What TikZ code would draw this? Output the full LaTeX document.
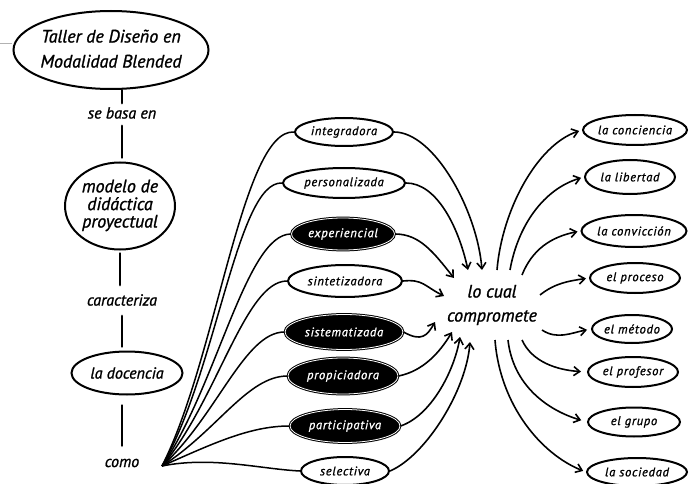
\documentclass[tikz,border=0pt]{standalone}
\usepackage{fontspec}
\setmainfont{PT Sans}[FakeBold=1.2]
\newfontfamily\spaced[LetterSpace=6,FakeBold=1.2]{PT Sans}
\usetikzlibrary{shapes.geometric,arrows.meta,calc}
\newcommand\ctxt[1]{\makebox[0pt][c]{#1}}
\begin{document}
\begin{tikzpicture}[x=1pt,y=-1pt,
  ell/.style={ellipse, draw=black, line width=2pt, inner sep=0pt, fill=white},
  dark/.style={ellipse, draw=black, fill=black, text=white, line width=1pt, double=white, double distance=0.8pt, inner sep=0pt},
  lab/.style={font=\spaced\itshape\fontsize{12.5}{14}\selectfont},
  big/.style={inner sep=0pt, font=\itshape\fontsize{16}{18}\selectfont},
  fanline/.style={line width=1.5pt},
  arr/.style={line width=1.6pt, -{Straight Barb[length=6pt,width=9pt]}},
  tick/.style={line width=2.8pt, line cap=round}]
\useasboundingbox (0,0) rectangle (699,484);
\fill[white] (0,0) rectangle (699,484);
\draw[gray!60, line width=0.6pt] (0,43) -- (12,43);

% left column
\node[ell, minimum width=195pt, minimum height=78pt, font=\itshape\fontsize{18}{25}\selectfont] (taller) at (111,50)
  {\ctxt{\begin{tabular}{@{}c@{}}Taller de Diseño en\\Modalidad Blended\end{tabular}}};
\node[big] (sbe) at (122,113) {se basa en};
\node[ell, minimum width=110pt, minimum height=87pt, font=\itshape\fontsize{18}{16}\selectfont] (modelo) at (120,206)
  {\ctxt{\begin{tabular}{@{}c@{}}modelo de\\didáctica\\proyectual\end{tabular}}};
\node[big] (car) at (122,300) {caracteriza};
\node[ell, minimum width=111pt, minimum height=43pt, font=\itshape\fontsize{16}{18}\selectfont] (doc) at (127,373) {\ctxt{la docencia}};
\node[big] (como) at (122,463) {como};

\draw[tick, shorten >=4pt] (sbe.north |- taller.south) -- (sbe.north);
\draw[tick, shorten <=7pt, shorten >=4pt] (sbe.south) -- (modelo.north -| sbe.south);
\draw[tick, shorten <=3pt, shorten >=9pt] (modelo.south) -- (modelo.south |- car.north);
\draw[tick, shorten <=10pt, shorten >=4pt] (car.south) -- (doc.north -| car.south);
\draw[tick, shorten <=10pt, shorten >=13pt] (doc.south -| como.north) -- (como.north);

% middle column
\node[ell, lab, minimum width=98pt, minimum height=28pt] (int) at (344,132) {\ctxt{integradora}};
\node[ell, lab, minimum width=122pt, minimum height=30pt] (per) at (344,183) {\ctxt{personalizada}};
\node[dark, lab, minimum width=103pt, minimum height=32pt] (exp) at (343,234) {\ctxt{experiencial}};
\node[ell, lab, minimum width=114pt, minimum height=32pt] (sin) at (345,281) {\ctxt{sintetizadora}};
\node[dark, lab, minimum width=118pt, minimum height=35pt] (sis) at (344,332) {\ctxt{sistematizada}};
\node[dark, lab, minimum width=110pt, minimum height=36pt] (prop) at (343,376) {\ctxt{propiciadora}};
\node[dark, lab, minimum width=110pt, minimum height=33pt] (par) at (345,426) {\ctxt{participativa}};
\node[ell, lab, minimum width=88pt, minimum height=28pt] (sel) at (345,471) {\ctxt{selectiva}};

% centre
\node[inner sep=0pt, align=center, font=\itshape\fontsize{18}{24}\selectfont] (lc) at (492,305) {lo cual\\compromete};

% right column
\node[ell, lab, minimum width=104pt, minimum height=30pt] (con) at (635,130) {\ctxt{la conciencia}};
\node[ell, lab, minimum width=90pt, minimum height=34pt] (lib) at (630,177) {\ctxt{la libertad}};
\node[ell, lab, minimum width=105pt, minimum height=32pt] (conv) at (634,231) {\ctxt{la convicción}};
\node[ell, lab, minimum width=90pt, minimum height=30pt] (proc) at (635,278) {\ctxt{el proceso}};
\node[ell, lab, minimum width=80pt, minimum height=28pt] (met) at (632,329) {\ctxt{el método}};
\node[ell, lab, minimum width=90pt, minimum height=30pt] (prof) at (633,372) {\ctxt{el profesor}};
\node[ell, lab, minimum width=92pt, minimum height=29pt] (gru) at (634,422) {\ctxt{el grupo}};
\node[ell, lab, minimum width=100pt, minimum height=28pt] (soc) at (637,472) {\ctxt{la sociedad}};

% fan from "como"
\coordinate (fan) at (162,466);
\draw[fanline] (fan) .. controls +(55,-108) and +(-52,-3) .. (int.west);
\draw[fanline] (fan) .. controls +(55,-95) and +(-45,-2) .. (per.west);
\draw[fanline] (fan) .. controls +(55,-80) and +(-45,0) .. (exp.west);
\draw[fanline] (fan) .. controls +(55,-65) and +(-42,0) .. (sin.west);
\draw[fanline] (fan) .. controls +(55,-50) and +(-40,0) .. (sis.west);
\draw[fanline] (fan) .. controls +(55,-35) and +(-40,0) .. (prop.west);
\draw[fanline] (fan) .. controls +(50,-22) and +(-40,0) .. (par.west);
\draw[fanline] (fan) .. controls +(50,-10) and +(-40,-2) .. (sel.west);

% arrow ends around the centre
\coordinate (i1) at ($(lc.center)+(-10,-35)$);
\coordinate (i2) at ($(lc.center)+(-24,-35)$);
\coordinate (i3) at ($(lc.center)+(-38,-27)$);
\coordinate (i4) at ($(lc.center)+(-48,-9)$);
\coordinate (i5) at ($(lc.center)+(-57,17)$);
\coordinate (i6) at ($(lc.center)+(-40,27)$);
\coordinate (i7) at ($(lc.center)+(-32,32)$);
\coordinate (i8) at ($(lc.center)+(-22,37)$);
\coordinate (o1) at ($(lc.center)+(5,-35)$);
\coordinate (o2) at ($(lc.center)+(18,-35)$);
\coordinate (o3) at ($(lc.center)+(30,-30)$);
\coordinate (o4) at ($(lc.center)+(48,-10)$);
\coordinate (o5) at ($(lc.center)+(50,25)$);
\coordinate (o6) at ($(lc.center)+(30,35)$);
\coordinate (o7) at ($(lc.center)+(16,35)$);
\coordinate (o8) at ($(lc.center)+(3,35)$);

\draw[arr] (int.east) .. controls +(40,0) and +(-5,-60) .. (i1);
\draw[arr] (per.east) .. controls +(30,0) and +(-10,-45) .. (i2);
\draw[arr] (exp.east) .. controls +(25,0) and +(-20,-25) .. (i3);
\draw[arr] (sin.east) .. controls +(20,-2) and +(-20,-10) .. (i4);
\draw[arr] (sis.east) .. controls +(18,10) and +(-8,14) .. (i5);
\draw[arr] (prop.east) .. controls +(25,-5) and +(-12,20) .. (i6);
\draw[arr] (par.east) .. controls +(30,-10) and +(-6,35) .. (i7);
\draw[arr] (sel.east) .. controls +(35,-15) and +(-4,50) .. (i8);

\draw[arr, shorten >=3pt] (o1) .. controls +(5,-60) and +(-45,15) .. (con.west);
\draw[arr, shorten >=3pt] (o2) .. controls +(8,-45) and +(-40,12) .. (lib.west);
\draw[arr, shorten >=3pt] (o3) .. controls +(10,-25) and +(-30,6) .. (conv.west);
\draw[arr, shorten >=3pt] (o4) .. controls +(15,-12) and +(-20,3) .. (proc.west);
\draw[arr, shorten >=4pt] (o5) .. controls +(15,10) and +(-20,4) .. (met.west);
\draw[arr, shorten >=6pt] (o6) .. controls +(10,22) and +(-30,-2) .. (prof.west);
\draw[arr, shorten >=6pt] (o7) .. controls +(5,45) and +(-40,-12) .. (gru.west);
\draw[arr, shorten >=3pt] (o8) .. controls +(5,65) and +(-45,-18) .. (soc.west);
\end{tikzpicture}
\end{document}
